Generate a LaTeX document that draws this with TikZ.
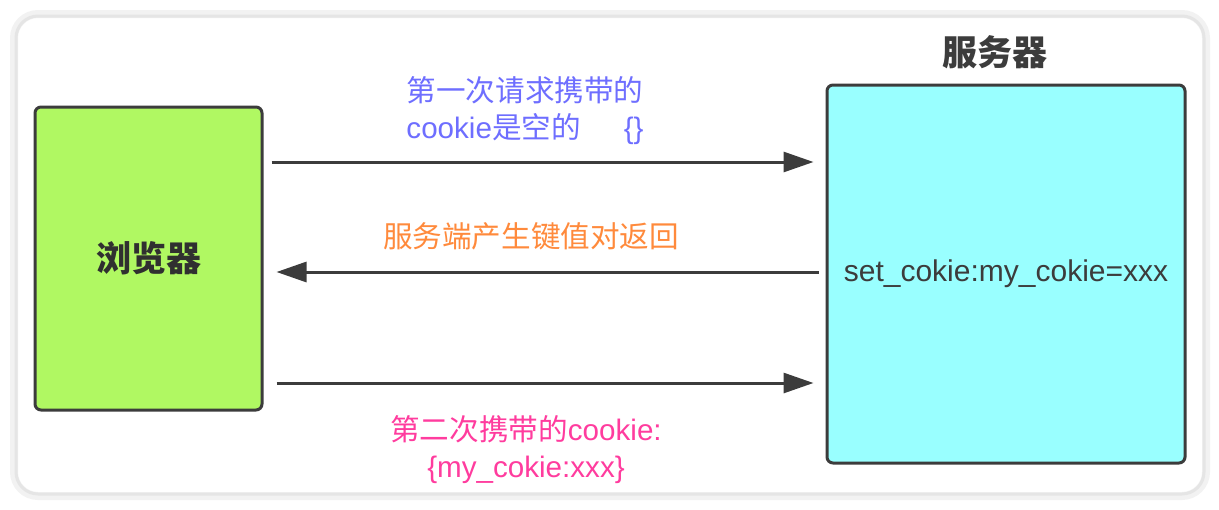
\documentclass[tikz,border=0pt]{standalone}
\usepackage{fontspec}
\setmainfont{Liberation Sans}
\newfontfamily\cjk{Noto Sans CJK SC}
\usetikzlibrary{positioning,arrows.meta}
\definecolor{boxgreen}{HTML}{B0F862}
\definecolor{boxcyan}{HTML}{99FFFF}
\definecolor{edgegray}{HTML}{3C3C3C}
\definecolor{txtblue}{HTML}{6E6EFF}
\definecolor{txtorange}{HTML}{FF8A3C}
\definecolor{txtpink}{HTML}{FF3C9E}
\tikzset{
  hostbox/.style={draw=edgegray,line width=1.5pt,rounded corners=3pt,align=center,inner sep=0pt},
  msgarr/.style={-{Triangle[length=15pt,width=10pt]},line width=1.5pt,draw=edgegray},
  msglabel/.style={align=center,font=\fontsize{14.8}{18.5}\selectfont}
}
\begin{document}
\begin{tikzpicture}[x=0.5pt,y=-0.5pt]
  \useasboundingbox (0,0) rectangle (1219,509);
  % frame
  \draw[gray!10,line width=4pt,rounded corners=12pt] (14,14) rectangle (1206,496);
  \draw[gray!20,line width=1.5pt,rounded corners=11pt] (16,16) rectangle (1204,494);

  \node[hostbox,fill=boxgreen,minimum width=113.5pt,minimum height=151.5pt,
        font=\cjk\fontsize{17.5}{20}\selectfont\bfseries,text=edgegray!80!black] (browser) at (148.5,258.5) {浏览器};
  \node[hostbox,fill=boxcyan,minimum width=179pt,minimum height=189pt,
        font=\fontsize{15}{18}\selectfont,text=edgegray] (server) at (1006,274) {set\_cokie:my\_cokie=xxx};
  \node[font=\cjk\fontsize{17.5}{20}\selectfont\bfseries,text=edgegray] (srvtitle) at (995,52) {服务器};

  \coordinate (req1) at (0,162);
  \coordinate (resp) at (0,272);
  \coordinate (req2) at (0,383);
  \draw[msgarr,shorten <=4pt,shorten >=6pt] (browser.east |- req1) -- (server.west |- req1);
  \draw[msgarr,shorten <=3.5pt,shorten >=6.5pt] (server.west |- resp) -- (browser.east |- resp);
  \draw[msgarr,shorten <=6.5pt,shorten >=6pt] (browser.east |- req2) -- (server.west |- req2);

  \node[msglabel,text=txtblue] (lbl1) at (525,111) {{\cjk 第一次请求携带的}\\cookie{\cjk 是空的}\hspace{1.45em}\{\}};
  \node[msglabel,text=txtorange] (lbl2) at (531,236) {\cjk 服务端产生键值对返回};
  \node[msglabel,text=txtpink] (lbl3) at (526,450) {{\cjk 第二次携带的}cookie:\\\{my\_cokie:xxx\}};
\end{tikzpicture}
\end{document}
